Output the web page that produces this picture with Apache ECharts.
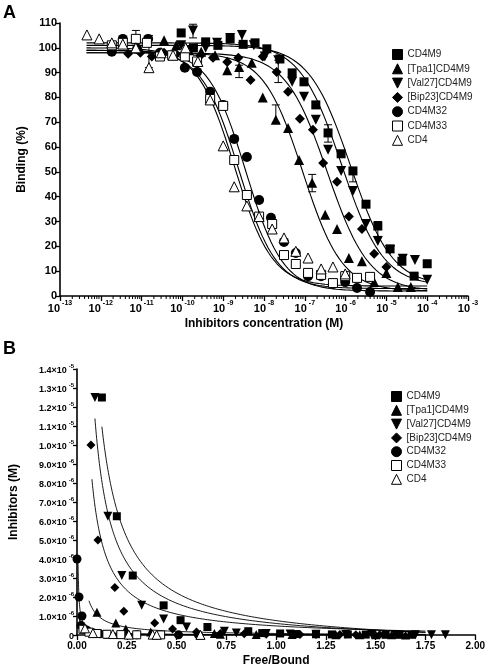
<!DOCTYPE html>
<html><head><meta charset="utf-8">
<script src="https://cdn.jsdelivr.net/npm/echarts@6/dist/echarts.min.js"></script>
<style>html,body{margin:0;padding:0;background:#fff}#c{width:488px;height:668px}</style>
</head><body><div id="c"></div>
<script>
const seriesNames = ['CD4M9','[Tpa1]CD4M9','[Val27]CD4M9','[Bip23]CD4M9','CD4M32','CD4M33','CD4'];

// ---- Panel A: [log10 concentration (M), binding %] ----
const cd4m9A = [[-10.03,106],[-9.73,100],[-9.43,102.4],[-9.13,101],[-8.83,103.6],[-8.51,101.4],[-8.22,102],[-7.93,99.6],[-7.61,95.5],[-7.31,89.9],[-7.02,86.3],[-6.73,77],[-6.43,65.7],[-6.11,57.3],[-5.82,50.4],[-5.5,37],[-5.21,28.2],[-4.91,19],[-4.62,14],[-4.32,8],[-4.0,13]];
const tpa1A = [[-10.45,103],[-10.15,101],[-9.84,99],[-9.54,98.4],[-9.2,97],[-8.9,91],[-8.61,92.3],[-8.3,94],[-8.03,80],[-7.71,71],[-7.41,67.7],[-7.14,54.8],[-6.82,45.6],[-6.5,32.7],[-6.21,27],[-5.92,15.3],[-5.6,14],[-5.3,5.6],[-5.0,9.3],[-4.72,3.6],[-4.4,3.6]];
const val27A = [[-10.03,101],[-9.74,107],[-9.43,100],[-9.15,102],[-8.83,104],[-8.54,105.2],[-8.25,101],[-7.98,96.5],[-7.65,95],[-7.31,86.3],[-7.02,80.3],[-6.73,71],[-6.43,58.9],[-6.11,50.4],[-5.82,42.3],[-5.5,29],[-5.21,22.2],[-4.91,18.5],[-4.6,15],[-4.3,14.5],[-4.0,6.5]];
const bip23A = [[-11.33,97.6],[-11.03,98],[-10.75,96.5],[-10.45,98],[-10.15,97.5],[-9.85,99],[-9.55,97],[-9.25,96],[-8.9,94.3],[-8.63,96],[-8.33,87],[-8.03,96.5],[-7.69,90.3],[-7.41,82.3],[-7.12,71.4],[-6.8,67],[-6.55,53.6],[-6.21,46],[-5.92,32],[-5.6,27],[-5.3,17],[-5.0,11.7]];
const cd4m32A = [[-11.73,98.4],[-11.46,103.6],[-11.11,99.6],[-10.84,103.6],[-10.55,98],[-10.25,97],[-9.94,92],[-9.64,90.3],[-9.32,82.3],[-9.0,77],[-8.73,63.3],[-8.42,56],[-8.12,38.7],[-7.83,31.5],[-7.51,21.8],[-7.22,17.3],[-6.92,8],[-6.6,8],[-6.31,4.8],[-6.01,5.6],[-5.72,3.2],[-5.4,1.6]];
const cd4m33A = [[-11.73,101],[-11.46,102],[-11.14,103.6],[-10.87,102],[-10.55,96.5],[-10.25,97],[-9.94,96.5],[-9.64,94.5],[-9.32,79.4],[-9.0,76.6],[-8.73,54.8],[-8.42,40.7],[-8.12,32],[-7.8,29],[-7.51,16.5],[-7.22,12.9],[-6.92,9.3],[-6.6,8.5],[-6.31,5.2],[-6.01,8],[-5.72,7.3],[-5.4,7.7]];
const cd4A = [[-12.34,105.2],[-12.04,103.6],[-11.73,102],[-11.46,101.5],[-11.14,100],[-10.82,92],[-10.52,98],[-10.23,97],[-9.92,100],[-9.62,94.5],[-9.32,79],[-9.0,60.5],[-8.73,44],[-8.42,36.3],[-8.12,32],[-7.8,27],[-7.51,23.4],[-7.22,18],[-6.92,15.3],[-6.6,10.9],[-6.31,11.7],[-6.01,8.9]];

// Error bars (panel A): [log10 conc, low, high]
const errorBarsA = [[-11.14,101,107],[-10.82,92,105],[-9.74,104,109.5],[-8.54,102,107],[-9.64,91,97],[-8.61,88,93],[-7.71,70,77],[-7.65,86,95],[-6.82,42,49],[-6.43,62,69],[-5.82,46,51],[-5.21,24,30],[-6.92,7,10]];

// Fitted sigmoid parameters (panel A)
const fitLogIC50 = [-5.88,-7.05,-6.10,-6.45,-8.45,-8.62,-8.72];
const fitHill    = [0.85,0.9,0.85,0.85,0.95,0.95,0.95];
const fitTop     = [101,98,102,98,99,99,100];
const fitBottom  = [4,2,4,2,2,3,4];
const fitRangeA  = [-12.35,-4.0];

const xTicksA = [-13,-12,-11,-10,-9,-8,-7,-6,-5,-4,-3];

// ---- Panel B: [Free/Bound, inhibitor (M)] ----
const cd4m9B = [[0.125,12.5e-6],[0.2,6.25e-6],[0.28,3.13e-6],[0.435,1.56e-6],[0.52,0.78e-6],[0.655,0.42e-6],[0.86,0.2e-6],[0.93,0.1e-6],[1.02,0.08e-6],[1.1,0.05e-6],[1.2,0.04e-6],[1.28,0.03e-6],[1.36,0.03e-6],[1.45,0.02e-6],[1.55,0.01e-6],[1.62,0.01e-6],[1.68,0.01e-6]];
const tpa1B = [[0.1,1.2e-6],[0.195,0.63e-6],[0.245,0.31e-6],[0.37,0.16e-6],[0.69,0.08e-6],[0.72,0.04e-6],[0.9,0.02e-6],[1.08,0.02e-6],[1.3,0.01e-6],[1.42,0.01e-6],[1.5,0.01e-6],[1.58,0.01e-6],[1.65,0.005e-6]];
const val27B = [[0.09,12.5e-6],[0.155,6.25e-6],[0.225,3.13e-6],[0.325,1.56e-6],[0.435,0.84e-6],[0.55,0.42e-6],[0.74,0.2e-6],[0.8,0.1e-6],[0.95,0.08e-6],[1.07,0.05e-6],[1.2,0.04e-6],[1.35,0.03e-6],[1.48,0.02e-6],[1.6,0.02e-6],[1.7,0.01e-6],[1.78,0.01e-6],[1.85,0.01e-6]];
const bip23B = [[0.07,10e-6],[0.105,5e-6],[0.19,2.5e-6],[0.235,1.25e-6],[0.39,0.63e-6],[0.48,0.31e-6],[0.6,0.16e-6],[0.72,0.08e-6],[0.84,0.06e-6],[0.95,0.04e-6],[1.12,0.03e-6],[1.2,0.02e-6],[1.32,0.02e-6],[1.4,0.01e-6],[1.52,0.01e-6]];
const cd4m32B = [[0.0,4.0e-6],[0.01,2.0e-6],[0.025,1.0e-6],[0.02,0.5e-6],[0.05,0.25e-6],[0.08,0.12e-6],[0.115,0.06e-6],[0.145,0.03e-6],[0.3,0.015e-6],[0.51,0.01e-6],[0.61,0.005e-6]];
const cd4m33B = [[0.03,0.3e-6],[0.06,0.15e-6],[0.1,0.08e-6],[0.15,0.04e-6],[0.22,0.02e-6],[0.3,0.01e-6],[0.42,0.005e-6]];
const cd4B = [[0.04,0.35e-6],[0.08,0.1e-6],[0.18,0.05e-6],[0.26,0.02e-6],[0.38,0.02e-6],[0.4,0.01e-6],[0.62,0.005e-6]];

// Fitted hyperbola parameters (panel B): y = a/x + b
const fitBa = [1.458e-6,0.11e-6,1.067e-6,0.626e-6,0.02e-6,0.012e-6,0.01e-6];
const fitBb = [-0.70e-6,-0.03e-6,-0.46e-6,-0.15e-6,0,0,0];
const fitBxStart = [0.125,0.06,0.09,0.075,0.005,0.01,0.01];
const fitBxEnd = 1.75;

const dataA = [cd4m9A,tpa1A,val27A,bip23A,cd4m32A,cd4m33A,cd4A];
const dataB = [cd4m9B,tpa1B,val27B,bip23B,cd4m32B,cd4m33B,cd4B];
const symbols = ['rect','triangle','path://M0,0L10,0L5,10Z','path://M5,0L10,5L5,10L0,5Z','circle','rect','triangle'];
const fills = ['#000','#000','#000','#000','#000','#fff','#fff'];
const symSizeA = [9,10,10,10,10,9,10];
const symSizeB = [8,9,9,9,9,8,9];

const FONT = 'Liberation Sans, Arial, sans-serif';

function sigmoid(i, lx){
  return fitBottom[i] + (fitTop[i]-fitBottom[i])/(1+Math.pow(10,fitHill[i]*(lx-fitLogIC50[i])));
}
function curveA(i){
  const pts=[]; const n=120;
  for(let k=0;k<=n;k++){const lx=fitRangeA[0]+(fitRangeA[1]-fitRangeA[0])*k/n; pts.push([lx,sigmoid(i,lx)]);}
  return pts;
}
function curveB(i){
  const pts=[]; const n=160; const x0=fitBxStart[i];
  for(let k=0;k<=n;k++){const x=x0*Math.pow(fitBxEnd/x0,k/n); pts.push([x,fitBa[i]/x+fitBb[i]]);}
  return pts;
}
const minorA=[];
for(let n=-13;n<-3;n++){for(let k=2;k<=9;k++){minorA.push([n+Math.log10(k),0]);}}

const series=[];
for(let i=0;i<7;i++){
  series.push({type:'line',name:'fitA'+i,xAxisIndex:0,yAxisIndex:0,data:curveA(i),showSymbol:false,symbol:'none',silent:true,
    lineStyle:{color:'#000',width:1.1},z:2,clip:true});
  series.push({type:'line',name:'fitB'+i,xAxisIndex:1,yAxisIndex:1,data:curveB(i),showSymbol:false,symbol:'none',silent:true,
    lineStyle:{color:'#000',width:0.9},z:2,clip:true});
}
series.push({type:'custom',name:'errA',xAxisIndex:0,yAxisIndex:0,data:errorBarsA,clip:false,silent:true,z:2,
  renderItem:(p,api)=>{const lo=api.coord([api.value(0),api.value(1)]);const hi=api.coord([api.value(0),api.value(2)]);
    return {type:'group',children:[
      {type:'line',shape:{x1:lo[0],y1:lo[1],x2:hi[0],y2:hi[1]},style:{stroke:'#000',lineWidth:1}},
      {type:'line',shape:{x1:lo[0]-4,y1:lo[1],x2:lo[0]+4,y2:lo[1]},style:{stroke:'#000',lineWidth:1}},
      {type:'line',shape:{x1:hi[0]-4,y1:hi[1],x2:hi[0]+4,y2:hi[1]},style:{stroke:'#000',lineWidth:1}}]};}});
for(let i=0;i<7;i++){
  series.push({type:'scatter',name:seriesNames[i],xAxisIndex:0,yAxisIndex:0,data:dataA[i],symbol:symbols[i],symbolSize:symSizeA[i],
    itemStyle:{color:fills[i],borderColor:'#000',borderWidth:fills[i]==='#fff'?1:0,opacity:1},z:3,clip:false});
  series.push({type:'scatter',name:seriesNames[i],xAxisIndex:1,yAxisIndex:1,data:dataB[i],symbol:symbols[i],symbolSize:symSizeB[i],
    itemStyle:{color:fills[i],borderColor:'#000',borderWidth:fills[i]==='#fff'?1:0,opacity:1},z:3,clip:false});
}
series.push({type:'custom',name:'minor',xAxisIndex:0,yAxisIndex:0,data:minorA,clip:false,silent:true,z:5,
  renderItem:(p,api)=>{const c=api.coord([api.value(0),0]);return {type:'line',shape:{x1:c[0],y1:c[1],x2:c[0],y2:c[1]+3},style:{stroke:'#000',lineWidth:1}};}});

const axisLine={lineStyle:{color:'#000',width:1.6}};
const tick={show:true,inside:false,length:5,lineStyle:{color:'#000',width:1.3}};

function fmtB(v){
  const u=Math.round(v*1e7);
  if(u===0) return '{b|0}';
  if(u>=100) return '{b|'+(u/100).toFixed(1)+'×10}{s|-5}';
  return '{b|'+(u/10).toFixed(1)+'×10}{s|-6}';
}
const legendText={fontSize:10,fontFamily:FONT,color:'#222'};
const legendItemStyle={borderWidth:1,borderColor:'#000'};

const option={
  animation:false,
  backgroundColor:'#fff',
  grid:[{left:60,right:20,top:23,bottom:372},{left:77,right:11,top:369,bottom:32}],
  xAxis:[
    {type:'value',gridIndex:0,min:-13,max:-3,interval:1,axisLine,axisTick:tick,splitLine:{show:false},
     axisLabel:{margin:4,formatter:v=>'{b|10}{s|'+v+'}',rich:{
       b:{fontSize:11,fontWeight:'bold',fontFamily:FONT,color:'#000',lineHeight:14,verticalAlign:'bottom'},
       s:{fontSize:7,fontWeight:'bold',fontFamily:FONT,color:'#000',lineHeight:14,verticalAlign:'top',padding:[0,0,0,2]}}},
     name:'Inhibitors concentration (M)',nameLocation:'middle',nameGap:22,
     nameTextStyle:{fontSize:12,fontWeight:'bold',fontFamily:FONT,color:'#000'}},
    {type:'value',gridIndex:1,min:0,max:2,interval:0.25,axisLine,axisTick:tick,splitLine:{show:false},
     axisLabel:{margin:6,fontSize:10,fontWeight:'bold',fontFamily:FONT,color:'#000',formatter:v=>v.toFixed(2)},
     name:'Free/Bound',nameLocation:'middle',nameGap:20,
     nameTextStyle:{fontSize:12,fontWeight:'bold',fontFamily:FONT,color:'#000'}}
  ],
  yAxis:[
    {type:'value',gridIndex:0,min:0,max:110,interval:10,axisLine,axisTick:tick,splitLine:{show:false},
     axisLabel:{margin:3,fontSize:11,fontWeight:'bold',fontFamily:FONT,color:'#000'},
     name:'Binding (%)',nameLocation:'middle',nameGap:28,
     nameTextStyle:{fontSize:12,fontWeight:'bold',fontFamily:FONT,color:'#000'}},
    {type:'value',gridIndex:1,min:0,max:1.4e-5,interval:1e-6,axisLine,axisTick:{...tick,length:4},splitLine:{show:false},
     axisLabel:{margin:3,formatter:fmtB,rich:{
       b:{fontSize:9,fontWeight:'bold',fontFamily:FONT,color:'#000',lineHeight:12,verticalAlign:'bottom'},
       s:{fontSize:6,fontWeight:'bold',fontFamily:FONT,color:'#000',lineHeight:12,verticalAlign:'top',padding:[0,0,0,2]}}},
     name:'Inhibitors (M)',nameLocation:'middle',nameGap:57,
     nameTextStyle:{fontSize:12,fontWeight:'bold',fontFamily:FONT,color:'#000'}}
  ],
  legend:[
    {data:seriesNames,orient:'vertical',left:387,top:44,itemWidth:10,itemHeight:10,itemGap:3.3,
     textStyle:legendText,itemStyle:legendItemStyle,selectedMode:false},
    {data:seriesNames,orient:'vertical',left:386,top:386,itemWidth:10,itemHeight:10,itemGap:2.8,
     textStyle:legendText,itemStyle:legendItemStyle,selectedMode:false}
  ],
  graphic:[
    {type:'text',left:3,top:4,style:{text:'A',fontSize:18,fontWeight:'bold',fontFamily:FONT,fill:'#000'}},
    {type:'text',left:3,top:340,style:{text:'B',fontSize:18,fontWeight:'bold',fontFamily:FONT,fill:'#000'}}
  ],
  series
};
const chart=echarts.init(document.getElementById('c'),null,{renderer:'canvas'});
chart.setOption(option);
</script></body></html>
